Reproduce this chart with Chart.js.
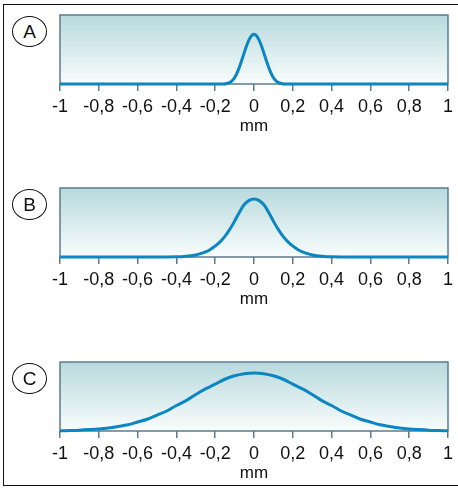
<!DOCTYPE html>
<html>
<head>
<meta charset="utf-8">
<script src="https://cdn.jsdelivr.net/npm/chart.js@4.4.1/dist/chart.umd.min.js"></script>
<style>
  html, body { margin: 0; padding: 0; background: #fff; }
  #page { position: relative; width: 458px; height: 489px; overflow: hidden; }
  #frame { position: absolute; left: 3px; top: 4px; width: 470px; height: 482px;
           border: 1px solid #111; box-sizing: border-box; pointer-events: none; }
  .panel { position: absolute; left: 0; width: 458px; height: 138px; }
  .badge { position: absolute; left: 12px; width: 35px; height: 31px; border: 1px solid #111;
           border-radius: 50%; box-sizing: border-box; font: 19px "Liberation Sans", Arial, sans-serif;
           color: #111; text-align: center; line-height: 29px; background: #fff; }
</style>
</head>
<body>
<div id="page">
  <div class="panel" style="top:0px"><canvas id="chartA"></canvas></div>
  <div class="panel" style="top:173px"><canvas id="chartB"></canvas></div>
  <div class="panel" style="top:347px"><canvas id="chartC"></canvas></div>
  <div class="badge" style="top:16px">A</div>
  <div class="badge" style="top:189px">B</div>
  <div class="badge" style="top:363px">C</div>
  <div id="frame"></div>
</div>
<script>
// tick labels use decimal commas, as in the original
const tickLabels = ["-1", "-0,8", "-0,6", "-0,4", "-0,2", "0", "0,2", "0,4", "0,6", "0,8", "1"];
const axisTitle = "mm";

// curve A - narrow peak (0..1 of panel height)
const xA = [-1, -0.2, -0.16, -0.14, -0.12, -0.1, -0.08, -0.06, -0.04, -0.02, 0, 0.02, 0.04, 0.06, 0.08, 0.1, 0.12, 0.14, 0.16, 0.2, 1];
const yA = [0, 0, 0, 0.008, 0.03, 0.09, 0.21, 0.37, 0.54, 0.67, 0.72, 0.67, 0.54, 0.37, 0.21, 0.09, 0.03, 0.008, 0, 0, 0];

// curve B - medium width
const xB = [-1, -0.45, -0.4, -0.375, -0.35, -0.325, -0.3, -0.275, -0.25, -0.225, -0.2, -0.175, -0.15, -0.125, -0.1, -0.075, -0.05, -0.025,
            0, 0.025, 0.05, 0.075, 0.1, 0.125, 0.15, 0.175, 0.2, 0.225, 0.25, 0.275, 0.3, 0.325, 0.35, 0.375, 0.4, 0.45, 1];
const yB = [0, 0, 0.002, 0.005, 0.01, 0.018, 0.03, 0.05, 0.075, 0.11, 0.16, 0.22, 0.3, 0.4, 0.52, 0.65, 0.76, 0.82,
            0.84, 0.82, 0.76, 0.65, 0.52, 0.4, 0.3, 0.22, 0.16, 0.11, 0.075, 0.05, 0.03, 0.018, 0.01, 0.005, 0.002, 0, 0];

// curve C - wide
const xC = [-1, -0.95, -0.9, -0.85, -0.8, -0.75, -0.7, -0.65, -0.6, -0.55, -0.5, -0.45, -0.4, -0.35, -0.3, -0.25, -0.2, -0.15, -0.1, -0.05,
            0, 0.05, 0.1, 0.15, 0.2, 0.25, 0.3, 0.35, 0.4, 0.45, 0.5, 0.55, 0.6, 0.65, 0.7, 0.75, 0.8, 0.85, 0.9, 0.95, 1];
const yC = [0.003, 0.007, 0.012, 0.02, 0.03, 0.045, 0.066, 0.09, 0.13, 0.17, 0.23, 0.29, 0.37, 0.44, 0.53, 0.61, 0.68, 0.75, 0.8, 0.83,
            0.84, 0.83, 0.8, 0.75, 0.68, 0.61, 0.53, 0.44, 0.37, 0.29, 0.23, 0.17, 0.13, 0.09, 0.066, 0.045, 0.03, 0.02, 0.012, 0.007, 0.003];

const lineColor = "#0a86c2";
const frameColor = "#5c7b8c";

// gradient background + frame of the plot area
const panelBg = {
  id: "panelBg",
  beforeDatasetsDraw(chart) {
    const { ctx, chartArea: a } = chart;
    const g = ctx.createLinearGradient(0, a.top, 0, a.bottom);
    g.addColorStop(0, "#b8dadd");
    g.addColorStop(1, "#f9fcfc");
    ctx.save();
    ctx.fillStyle = g;
    ctx.fillRect(a.left, a.top, a.right - a.left, a.bottom - a.top);
    ctx.strokeStyle = frameColor;
    ctx.lineWidth = 1.5;
    ctx.strokeRect(a.left, a.top, a.right - a.left, a.bottom - a.top);
    ctx.restore();
  }
};

function makeChart(id, xs, ys) {
  const pts = xs.map((x, i) => ({ x: x, y: ys[i] }));
  return new Chart(document.getElementById(id), {
    type: "line",
    data: {
      datasets: [{
        data: pts,
        borderColor: lineColor,
        borderWidth: 3,
        pointRadius: 0,
        fill: false,
        tension: 0.4,
        clip: false
      }]
    },
    options: {
      responsive: false,
      animation: false,
      events: [],
      layout: { padding: { left: 60, right: 8, top: 15, bottom: 4 } },
      plugins: { legend: { display: false }, tooltip: { enabled: false } },
      scales: {
        x: {
          type: "linear",
          min: -1,
          max: 1,
          afterBuildTicks(scale) {
            scale.ticks = tickLabels.map((_, i) => ({ value: -1 + i * 0.2 }));
          },
          afterFit(scale) { scale.height = 50; },
          grid: { drawOnChartArea: false, drawTicks: true, tickLength: 7, color: frameColor, lineWidth: 1.5 },
          border: { display: false },
          ticks: {
            autoSkip: false,
            maxRotation: 0,
            padding: 5,
            color: "#111",
            font: { family: "Liberation Sans", size: 18 },
            callback: (v, i) => tickLabels[i]
          },
          title: {
            display: true,
            text: axisTitle,
            color: "#111",
            font: { family: "Liberation Sans", size: 17 },
            padding: { top: 0, bottom: -3 }
          }
        },
        y: { display: false, min: 0, max: 1 }
      }
    },
    plugins: [panelBg]
  });
}

document.querySelectorAll("canvas").forEach(c => { c.width = 458; c.height = 138; });
makeChart("chartA", xA, yA);
makeChart("chartB", xB, yB);
makeChart("chartC", xC, yC);
</script>
</body>
</html>
